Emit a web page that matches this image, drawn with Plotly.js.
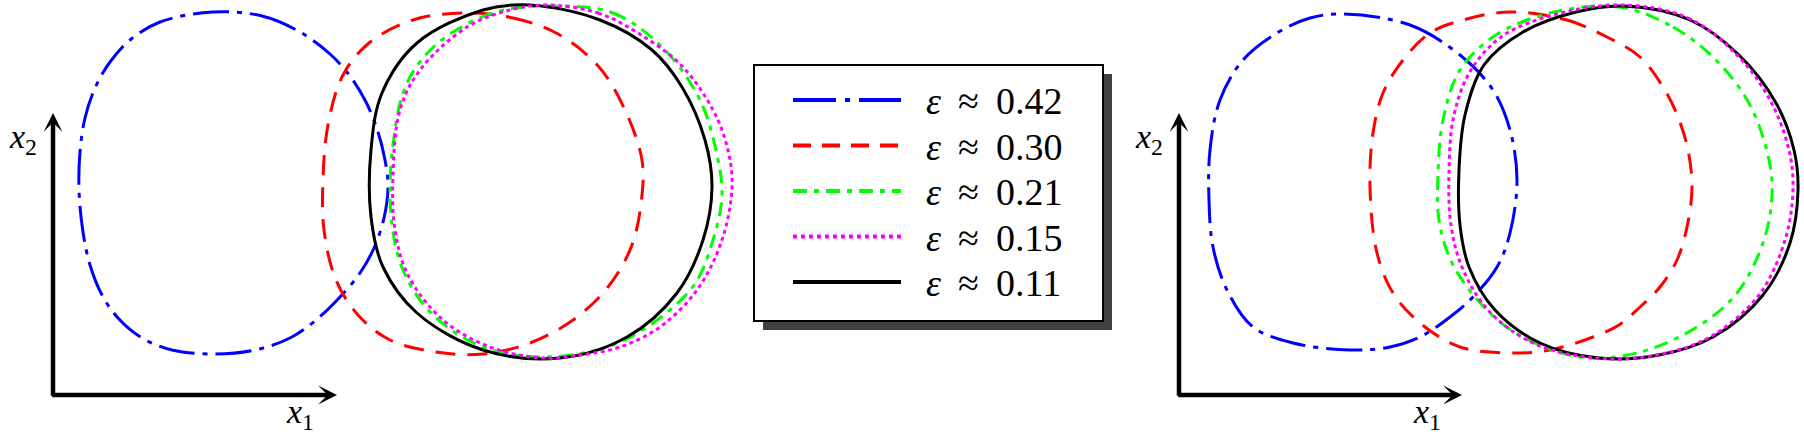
<!DOCTYPE html>
<html>
<head>
<meta charset="utf-8">
<script src="https://cdn.plot.ly/plotly-3.0.1.min.js"></script>
<style>
  html, body { margin: 0; padding: 0; background: #fff; }
  #plot { width: 1804px; height: 437px; }
</style>
</head>
<body>
<div id="plot"></div>
<script>
var eps = ['0.42', '0.30', '0.21', '0.15', '0.11'];

// left panel
var leftBlueX = [160, 209, 247, 277, 297, 313, 325, 332, 335, 331, 321, 307, 287, 263, 237, 202, 160, 119, 89, 65, 49, 37, 30, 26, 27, 32, 42, 57, 77, 107, 160];
var leftBlueY = [383, 379, 363, 341, 319, 293, 263, 235, 208, 177, 147, 122, 98, 75, 57, 45, 41, 45, 57, 77, 100, 130, 163, 205, 243, 277, 307, 333, 355, 373, 383];
var leftRedX = [410, 460, 505, 546, 572, 589, 589, 579, 555, 520, 477, 430, 383, 337, 305, 283, 271, 270, 275, 290, 316, 360, 410];
var leftRedY = [382, 377, 361, 328, 285, 235, 200, 150, 108, 75, 52, 41, 43, 55, 80, 115, 165, 215, 270, 320, 352, 375, 382];
var leftGreenX = [500, 560, 610, 647, 664, 669, 660, 641, 600, 554, 490, 430, 380, 350, 338, 340, 354, 385, 440, 500];
var leftGreenY = [389, 382, 347, 295, 240, 200, 155, 110, 72, 48, 38, 48, 80, 125, 180, 250, 312, 352, 382, 389];
var leftMagentaX = [494, 545, 585, 628, 660, 675, 679, 669, 644, 607, 567, 527, 490, 437, 390, 355, 342, 340, 347, 367, 414, 457, 494];
var leftMagentaY = [390, 382, 362, 330, 285, 245, 208, 155, 105, 68, 48, 40, 37, 48, 75, 120, 165, 220, 285, 325, 368, 385, 390];
var leftBlackX = [477, 547, 599, 629, 652, 659, 650, 624, 574, 507, 430, 364, 330, 318, 318, 329, 364, 430, 477];
var leftBlackY = [390, 375, 345, 308, 255, 208, 155, 102, 58, 37, 45, 82, 128, 178, 245, 302, 352, 385, 390];

// right panel
var rightBlueX = [164, 231, 281, 314, 331, 338, 331, 318, 294, 271, 241, 211, 171, 114, 74, 48, 34, 30, 31, 41, 64, 98, 131, 164];
var rightBlueY = [381, 370, 340, 305, 265, 215, 162, 128, 98, 78, 58, 48, 45, 52, 68, 105, 148, 195, 245, 295, 335, 362, 377, 381];
var rightRedX = [331, 388, 428, 461, 484, 499, 509, 513, 508, 498, 481, 461, 440, 414, 371, 331, 281, 241, 214, 198, 191, 194, 204, 224, 251, 284, 331];
var rightRedY = [383, 375, 358, 338, 308, 278, 245, 208, 168, 135, 108, 88, 70, 58, 45, 42, 48, 72, 102, 142, 208, 262, 302, 335, 362, 375, 383];
var rightGreenX = [440, 494, 537, 571, 590, 593, 585, 558, 518, 458, 400, 340, 305, 273, 260, 259, 264, 281, 317, 375, 440];
var rightGreenY = [388, 368, 335, 290, 235, 200, 155, 102, 68, 42, 38, 60, 88, 132, 175, 220, 275, 325, 360, 383, 388];
var rightMagentaX = [445, 509, 558, 591, 610, 614, 606, 580, 531, 478, 415, 354, 309, 283, 272, 270, 275, 292, 325, 382, 445];
var rightMagentaY = [390, 377, 340, 295, 245, 205, 155, 100, 58, 40, 37, 52, 85, 128, 170, 225, 280, 325, 360, 382, 390];
var rightBlackX = [445, 511, 560, 597, 615, 619, 611, 584, 534, 480, 420, 361, 316, 290, 281, 280, 286, 305, 344, 397, 445];
var rightBlackY = [389, 375, 340, 292, 245, 205, 152, 100, 58, 40, 37, 52, 85, 128, 170, 225, 280, 330, 363, 383, 389];

// series styles, in legend order
var colors = ['#0000ff', '#ff0000', '#00ff00', '#ff00ff', '#000000'];
var dashes = ['36px,8px,5px,8px', '20px,12px', '14px,7px,5px,7px', '4px,3.5px', 'solid'];

var leftCurves = [[leftBlueX, leftBlueY], [leftRedX, leftRedY], [leftGreenX, leftGreenY], [leftMagentaX, leftMagentaY], [leftBlackX, leftBlackY]];
var rightCurves = [[rightBlueX, rightBlueY], [rightRedX, rightRedY], [rightGreenX, rightGreenY], [rightMagentaX, rightMagentaY], [rightBlackX, rightBlackY]];

// draw black before magenta, like the original
var drawOrder = [0, 1, 2, 4, 3];

var W = 1804, H = 437;
var serif = '"Liberation Serif", "DejaVu Serif", serif';
var data = [];
[[leftCurves, 'x', 'y'], [rightCurves, 'x2', 'y2']].forEach(function (p) {
  drawOrder.forEach(function (i) {
    data.push({
      type: 'scatter',
      mode: 'lines',
      x: p[0][i][0],
      y: p[0][i][1],
      xaxis: p[1],
      yaxis: p[2],
      name: '\u03b5 \u2248 ' + eps[i],
      line: { color: colors[i], width: 3, dash: dashes[i], shape: 'spline', smoothing: 1 },
      hoverinfo: 'skip'
    });
  });
});

function px(x) { return x / W; }
function py(y) { return 1 - y / H; }

var shapes = [];
var annotations = [];

// legend box with drop shadow
shapes.push({ type: 'rect', xref: 'paper', yref: 'paper', x0: px(763), x1: px(1112), y0: py(330), y1: py(74),
  fillcolor: '#404040', line: { width: 0 }, layer: 'below' });
shapes.push({ type: 'rect', xref: 'paper', yref: 'paper', x0: px(754), x1: px(1103), y0: py(321), y1: py(65),
  fillcolor: '#ffffff', line: { color: '#000', width: 2 }, layer: 'below' });

// the legend samples use the same patterns, stretched a bit as in the original
var legendDashes = ['43px,9px,5px,9px', '18px,11px', '14px,7px,5px,7px', '4px,4px', 'solid'];
eps.forEach(function (e, i) {
  var rowY = 100 + i * 45.5;
  shapes.push({ type: 'line', xref: 'paper', yref: 'paper', x0: px(793), x1: px(901), y0: py(rowY), y1: py(rowY),
    line: { color: colors[i], width: 4, dash: legendDashes[i] } });
  annotations.push({ xref: 'paper', yref: 'paper', x: px(924), y: py(rowY + 1), xanchor: 'left', yanchor: 'middle',
    text: '<i>\u03b5</i>\u00a0\u2009\u2248\u00a0\u2009' + e, showarrow: false,
    font: { family: serif, size: 38, color: '#000' } });
});

// axis arrows and labels for both panels
[['x', 'y'], ['x2', 'y2']].forEach(function (a, k) {
  var tipX = k === 0 ? 284 : 283;
  annotations.push({ xref: a[0], yref: a[1], axref: a[0], ayref: a[1], x: 0, y: 282, ax: 0, ay: -2.3,
    text: '', showarrow: true, arrowhead: 3, arrowsize: 0.7, arrowwidth: 4.5, arrowcolor: '#000', standoff: 0 });
  annotations.push({ xref: a[0], yref: a[1], axref: a[0], ayref: a[1], x: tipX, y: 0, ax: -2.3, ay: 0,
    text: '', showarrow: true, arrowhead: 3, arrowsize: 0.7, arrowwidth: 4.5, arrowcolor: '#000', standoff: 0 });
  annotations.push({ xref: a[0], yref: a[1], x: -14, y: 256, xanchor: 'right', yanchor: 'middle',
    text: '<i>x</i><sub>2</sub>', showarrow: false,
    font: { family: serif, size: 34, color: '#000' } });
  annotations.push({ xref: a[0], yref: a[1], x: k === 0 ? 247 : 248, y: -19, xanchor: 'center', yanchor: 'middle',
    text: '<i>x</i><sub>1</sub>', showarrow: false,
    font: { family: serif, size: 34, color: '#000' } });
});

var hidden = { visible: false, showgrid: false, zeroline: false, fixedrange: true };

var layout = {
  width: W,
  height: H,
  margin: { l: 0, r: 0, t: 0, b: 0 },
  paper_bgcolor: '#ffffff',
  plot_bgcolor: 'rgba(0,0,0,0)',
  showlegend: false,
  xaxis: Object.assign({ domain: [0, 760 / W], range: [-53, 707], anchor: 'y' }, hidden),
  yaxis: Object.assign({ domain: [0, 1], range: [-42, 395], anchor: 'x' }, hidden),
  xaxis2: Object.assign({ domain: [1110 / W, 1], range: [-69, 625], anchor: 'y2' }, hidden),
  yaxis2: Object.assign({ domain: [0, 1], range: [-42, 395], anchor: 'x2' }, hidden),
  shapes: shapes,
  annotations: annotations
};

Plotly.newPlot('plot', data, layout, { displayModeBar: false, staticPlot: true });
</script>
</body>
</html>
